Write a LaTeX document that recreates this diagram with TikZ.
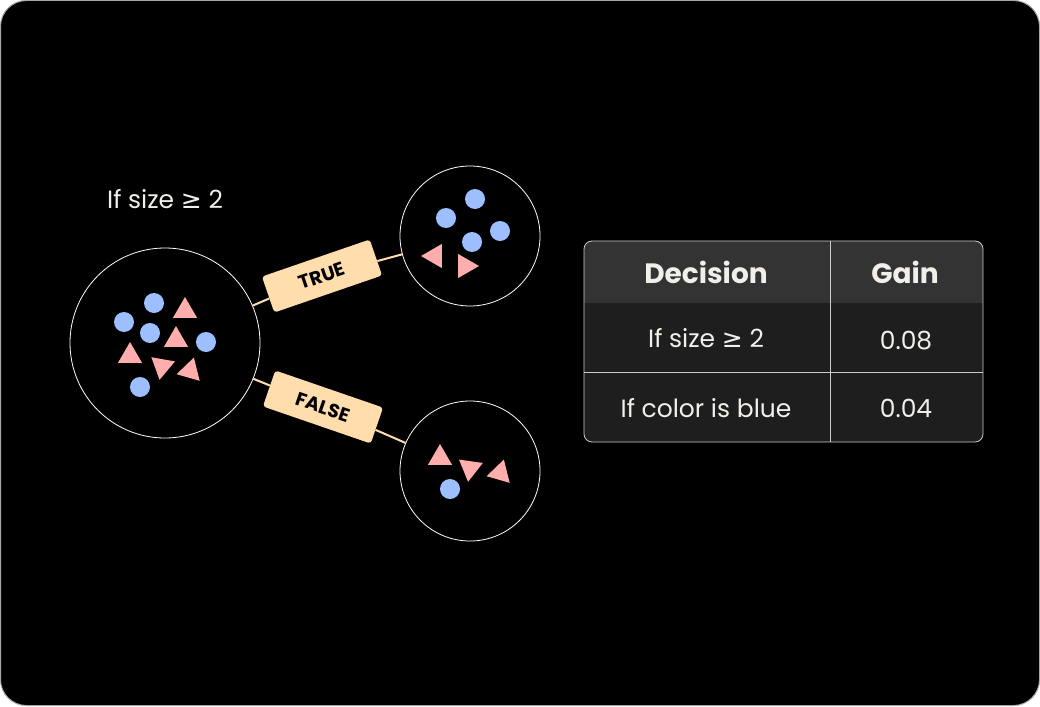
\documentclass[tikz,border=0pt]{standalone}
\usepackage{fontspec}
\usetikzlibrary{backgrounds}
\setmainfont{Poppins}
\newfontfamily\symf{DejaVu Sans}
\newcommand{\gesym}{{\symf ≥}}
\begin{document}
\begin{tikzpicture}[x=1pt,y=-1pt,
  ring/.style={circle,draw=white,line width=0.8pt,minimum size=#1,inner sep=0pt},
  dot/.style={fill=blueb,draw=none},
  tri/.style={fill=pinkt,draw=none},
  lab/.style={draw=none,fill=peach,rounded corners=3pt,minimum width=114pt,minimum height=38pt,font=\bfseries\fontsize{19}{19}\selectfont,text=black},
  conn/.style={draw=peach,line width=2pt},
  txt/.style={text=textw,font=\fontsize{25}{28}\selectfont}]
\definecolor{blueb}{HTML}{9EBFFF}
\definecolor{pinkt}{HTML}{FFADAD}
\definecolor{peach}{HTML}{FFDDAD}
\definecolor{textw}{HTML}{F2EFEA}
\definecolor{hdr}{HTML}{333333}
\definecolor{rowc}{HTML}{1E1E1E}
\useasboundingbox (0,0) rectangle (1040,706);

\node[ring=190pt] (big) at (165,343) {};
\node[ring=140pt] (t) at (470,236) {};
\node[ring=140pt] (f) at (470,471) {};
\node[lab,rotate=19] (tl) at (322,276) {TRUE};
\node[lab,rotate=-19] (fl) at (323,407) {FALSE};
\begin{scope}[on background layer]
\fill[white] (0,0) rectangle (1040,706);
\draw[fill=black,draw=gray!70,line width=1pt,rounded corners=26pt] (0.5,0.5) rectangle (1039.5,705.5);
\draw[conn] (big) -- (tl);
\draw[conn] (tl) -- (t);
\draw[conn] (big) -- (fl);
\draw[conn] (fl) -- (f);
\end{scope}

\node[txt,anchor=center] (q) at (165,199) {If size \gesym\ 2};

% big circle contents
\foreach \p in {(154,303),(124,322),(150,333),(206,342),(140,387)} \fill[dot] \p circle (10);
\foreach \p/\a in {(185,311)/-90,(176,340)/-90,(130,356)/-90,(162,366)/100,(190,371)/-74}
  \fill[tri] \p ++(\a:14) -- ++(\a+210:24) -- ++(\a+90:24) -- cycle;
% top circle
\foreach \p in {(475,199),(446,218),(472,242),(500,231)} \fill[dot] \p circle (10);
\foreach \p/\a in {(435,256)/180,(465,266)/0}
  \fill[tri] \p ++(\a:14) -- ++(\a+210:24) -- ++(\a+90:24) -- cycle;
% bottom circle
\foreach \p in {(450,489)} \fill[dot] \p circle (10);
\foreach \p/\a in {(440,458)/-90,(470,468)/98,(500,473)/-74}
  \fill[tri] \p ++(\a:14) -- ++(\a+210:24) -- ++(\a+90:24) -- cycle;

% table
\begin{scope}
\clip[rounded corners=8pt] (584,241) rectangle (983,442);
\fill[rowc] (584,241) rectangle (983,442);
\fill[hdr] (584,241) rectangle (983,303);
\end{scope}
\draw[white!80!black,line width=0.8pt,rounded corners=8pt] (584,241) rectangle (983,442);
\draw[white!80!black,line width=0.8pt] (830,241) -- (830,442);
\draw[white!80!black,line width=0.8pt] (584,372) -- (983,372);
\node[text=textw,font=\bfseries\fontsize{28}{30}\selectfont] (h1) at (706,272) {Decision};
\node[text=textw,font=\bfseries\fontsize{28}{30}\selectfont] (h2) at (905,272) {Gain};
\node[txt] (r1) at (706,338) {If size \gesym\ 2};
\node[txt] (r1b) at (906,341) {0.08};
\node[txt] (r2) at (706,408) {If color is blue};
\node[txt] (r2b) at (906,408) {0.04};
\end{tikzpicture}
\end{document}
